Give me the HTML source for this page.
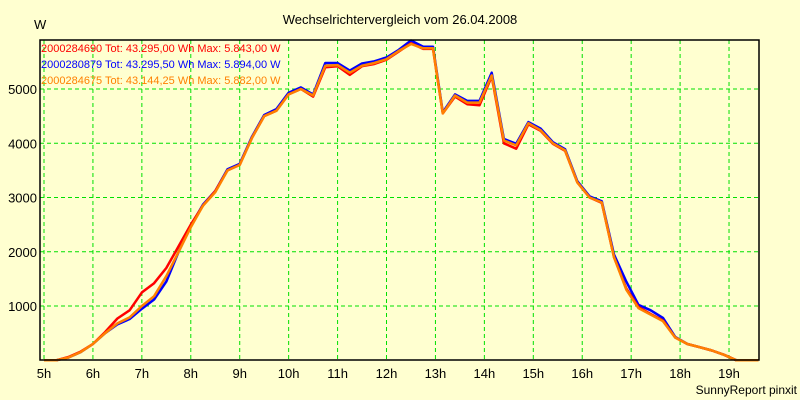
<!DOCTYPE html>
<html><head><meta charset="utf-8"><style>
html,body{margin:0;padding:0;background:#ffffd0;}
svg{display:block;font-family:"Liberation Sans",sans-serif;}
</style></head><body>
<svg id="chart" width="800" height="400" viewBox="0 0 800 400" xmlns="http://www.w3.org/2000/svg">
<rect x="0" y="0" width="800" height="400" fill="#ffffd0"/>
<text x="400" y="24" text-anchor="middle" font-size="13" fill="#000">Wechselrichtervergleich vom 26.04.2008</text>
<text x="34" y="29" font-size="13" fill="#000">W</text>
<g id="grid"></g>
<g id="axes"></g>
<g id="series"></g>
<rect x="40" y="40" width="719" height="320" fill="none" stroke="#000" stroke-width="1.5"/>
<g font-size="11">
<text x="41" y="52" fill="#ff0000">2000284690 Tot: 43.295,00 Wh Max: 5.843,00 W</text>
<text x="41" y="68" fill="#0000ff">2000280879 Tot: 43.295,50 Wh Max: 5.894,00 W</text>
<text x="41" y="84" fill="#ff8000">2000284675 Tot: 43.144,25 Wh Max: 5.882,00 W</text>
</g>
<text x="797" y="394" text-anchor="end" font-size="12" fill="#000">SunnyReport pinxit</text>
</svg>
<script>
const hours = [5,6,7,8,9,10,11,12,13,14,15,16,17,18,19];
const yTicks = [1000,2000,3000,4000,5000];
const times = [5,5.25,5.5,5.75,6,6.25,6.5,6.75,7,7.25,7.5,7.75,8,8.25,8.5,8.75,9,9.25,9.5,9.75,10,10.25,10.5,10.75,11,11.25,11.5,11.75,12,12.25,12.5,12.75,12.95,13.15,13.4,13.65,13.9,14.15,14.4,14.65,14.9,15.15,15.4,15.65,15.9,16.15,16.4,16.65,16.9,17.15,17.4,17.65,17.9,18.15,18.4,18.65,18.9,19.15,19.6];
const orange = [0,0,50,150,300,500,680,790,1000,1180,1550,2000,2450,2850,3100,3500,3600,4100,4500,4600,4900,5000,4880,5430,5440,5300,5430,5480,5550,5700,5830,5750,5750,4550,4880,4750,4750,5250,4050,3960,4370,4240,4000,3870,3280,3000,2910,1900,1300,960,840,720,420,300,240,180,100,0,0];
const red = [0,0,60,160,300,520,770,920,1250,1420,1700,2100,2500,2850,3120,3500,3600,4100,4500,4600,4900,5000,4860,5400,5420,5260,5420,5460,5540,5690,5843,5740,5740,4550,4860,4720,4700,5230,4000,3900,4350,4230,3990,3860,3280,3000,2900,1900,1320,980,850,730,420,300,240,180,100,0,0];
const blue = [0,0,50,150,300,500,660,760,950,1120,1450,2000,2480,2870,3120,3520,3620,4120,4520,4630,4930,5030,4900,5480,5480,5340,5470,5510,5580,5720,5894,5780,5780,4570,4900,4780,4780,5300,4080,3990,4390,4270,4020,3890,3300,3020,2930,1950,1450,1020,920,780,430,300,240,180,100,0,0];
const X0=44, XPH=48.93, Y0=360.25, YPU=0.05425;
const xs = h => X0 + (h-5)*XPH;
const ys = v => Y0 - v*YPU;
const NS="http://www.w3.org/2000/svg";
const grid=document.getElementById('grid'), axes=document.getElementById('axes'), series=document.getElementById('series');
hours.forEach(h=>{
  const l=document.createElementNS(NS,'line');
  
  
  l.setAttribute('x1',xs(h));l.setAttribute('x2',xs(h));l.setAttribute('y1',40);l.setAttribute('y2',360);
  l.setAttribute('stroke','#00e000');l.setAttribute('stroke-dasharray','4,3');
  grid.appendChild(l);
  const t=document.createElementNS(NS,'text');
  
  
  t.setAttribute('x',xs(h));t.setAttribute('y',378);t.setAttribute('text-anchor','middle');t.setAttribute('font-size','13');
  t.textContent=h+'h';axes.appendChild(t);
});
yTicks.forEach(v=>{
  const l=document.createElementNS(NS,'line');
  
  
  l.setAttribute('x1',40);l.setAttribute('x2',759);l.setAttribute('y1',ys(v));l.setAttribute('y2',ys(v));
  l.setAttribute('stroke','#00e000');l.setAttribute('stroke-dasharray','4,3');
  grid.appendChild(l);
  const t=document.createElementNS(NS,'text');
  
  
  t.setAttribute('x',37);t.setAttribute('y',ys(v)+5);t.setAttribute('text-anchor','end');t.setAttribute('font-size','13');
  t.textContent=v;axes.appendChild(t);
});
[[blue,'#0000ff','series-2000280879'],[red,'#ff0000','series-2000284690'],[orange,'#ff8000','series-2000284675']].forEach(([d,c,n])=>{
  const p=document.createElementNS(NS,'polyline');
  
  
  p.setAttribute('points',d.map((v,i)=>xs(times[i]).toFixed(1)+','+ys(v).toFixed(1)).join(' '));
  p.setAttribute('fill','none');p.setAttribute('stroke',c);p.setAttribute('stroke-width','2.5');p.setAttribute('stroke-linejoin','round');
  series.appendChild(p);
});
</script>
</body></html>
